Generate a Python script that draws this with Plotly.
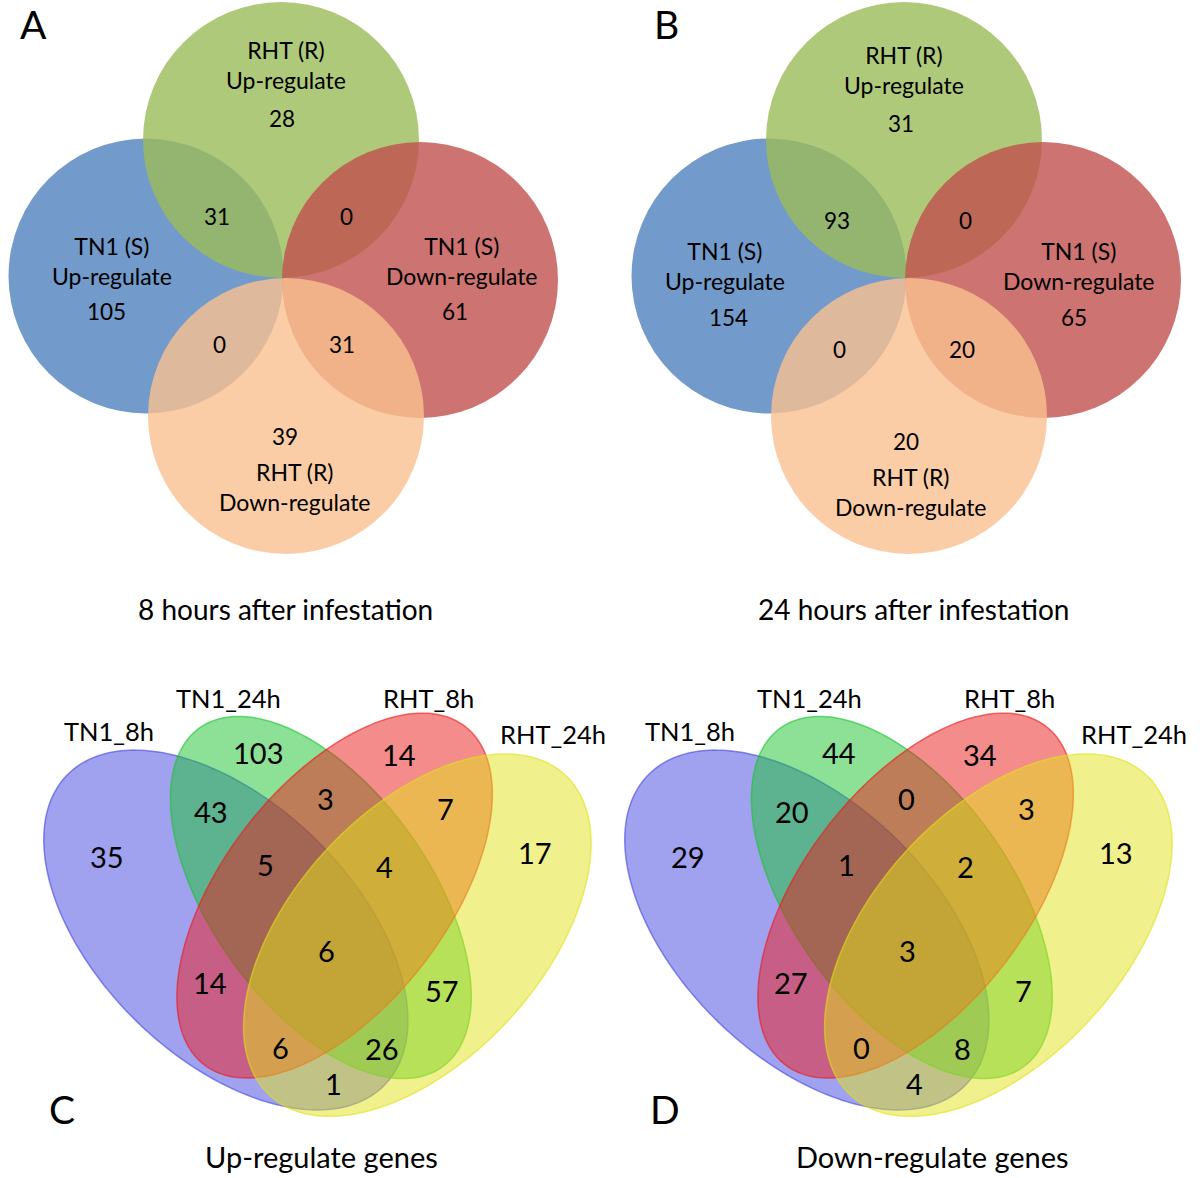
import numpy as np
import plotly.graph_objects as go

# ---------------- DATA ----------------
# Panels A / B : four-circle Venn (TN1 / RHT, up / down)
ab_set_labels = ["TN1 (S)<br>Up-regulate", "RHT (R)<br>Up-regulate",
                 "TN1 (S)<br>Down-regulate", "RHT (R)<br>Down-regulate"]
ab_regions = ["TN1 up", "RHT up", "TN1 down", "RHT down",
              "TN1 up & RHT up", "RHT up & TN1 down",
              "TN1 up & RHT down", "TN1 down & RHT down"]
counts_8h = [105, 28, 61, 39, 31, 0, 0, 31]
counts_24h = [154, 31, 65, 20, 93, 0, 0, 20]
ab_titles = ["8 hours after infestation", "24 hours after infestation"]

# Panels C / D : four-ellipse Venn
cd_set_labels = ["TN1_8h", "TN1_24h", "RHT_8h", "RHT_24h"]
cd_regions = ["B", "G", "R", "Y", "BG", "GR", "RY", "BR", "GY", "BY",
              "BGR", "GRY", "BRY", "BGY", "BGRY"]
up_counts = [35, 103, 14, 17, 43, 3, 7, 14, 57, 1, 5, 4, 6, 26, 6]
down_counts = [29, 44, 34, 13, 20, 0, 3, 27, 7, 4, 1, 2, 0, 8, 3]
cd_titles = ["Up-regulate genes", "Down-regulate genes"]
panel_letters = ["A", "B", "C", "D"]

# ---------------- LAYOUT (pixel canvas) ----------------
W, H = 1200, 1178
FONT = "Lato"

# circles of panel A (cx, cy, r); panel B is shifted by AB_DX
ab_circles = [(146, 276, 137.5), (281, 140, 138), (420, 280, 138), (286, 416, 138)]
ab_fill = ["#4F81BD", "#9BBB59", "#C0504D", "#FAC090"]
AB_DX = 623
ab_setlab_pos = [(111.5, 261), (286, 65), (461.5, 261), (295, 487)]
ab_count_pos_a = [(106, 311.5), (282, 118), (455, 311.5), (285, 436),
                  (216.5, 216), (346, 216), (219, 344.6), (341.5, 344.6)]
ab_count_pos_b = [(728, 317.7), (901, 123), (1074, 317.7), (906, 441),
                  (836.5, 220.7), (965, 220.7), (839, 349), (961.5, 349)]
ab_setlab_pos_b = [(725, 266), (904, 70), (1079, 266), (911, 492)]

# outline samples of the four ellipses of panel C (pixels); panel D = C shifted by CD_DX
cd_outline = [
    [(45, 833), (127, 748), (170, 753), (263, 800), (327, 850), (403, 985), (412, 1010),
     (383, 1080), (323, 1110), (223, 1082), (180, 1060), (130, 1020), (90, 960)],
    [(172, 817), (180, 750), (237, 718), (270, 720), (327, 750), (383, 800), (453, 920),
     (472, 973), (472, 993), (457, 1053), (413, 1075), (383, 1077), (327, 1053),
     (245, 980), (198, 903)],
    [(437, 716), (403, 717), (470, 723), (483, 753), (492, 800), (453, 920), (400, 990),
     (327, 1053), (250, 1080), (230, 1077), (220, 1070), (187, 1043), (177, 993),
     (200, 903), (267, 800), (327, 750)],
    [(513, 752), (593, 833), (470, 760), (383, 800), (327, 850), (250, 977), (241, 1027),
     (256, 1077), (323, 1110), (413, 1093), (480, 1060), (530, 980)],
]
cd_rgb = [(65, 69, 225), (25, 195, 45), (235, 25, 25), (225, 225, 25)]
CD_DX = 581
cd_setlab_pos = [(109.3, 731.4), (228.5, 698.2), (428.5, 697.5), (553.3, 733.8)]
cd_count_pos = [(107.3, 856), (257.5, 752.4), (398.6, 754.7), (534.6, 852.7),
                (210.7, 811.2), (325.9, 798.9), (445.2, 808.8), (209.9, 982.3),
                (442, 990.6), (333, 1083.6), (265.5, 864.3), (384.7, 866.6),
                (280.2, 1047), (381.6, 1048.7), (326.7, 950.7)]

title_pos = [(285, 609), (913, 609), (321, 1156), (932.7, 1156)]
title_size = [28, 28, 29, 29]
letter_pos = [(33.5, 23.5), (666, 23.5), (62, 1109), (665, 1109)]


def fitted_ellipse(pts, n=240):
    """Least-squares conic through outline samples -> closed ellipse outline."""
    P = np.asarray(pts, float)
    m = P.mean(axis=0)
    s = P.std()
    x = (P[:, 0] - m[0]) / s
    y = (P[:, 1] - m[1]) / s
    M = np.column_stack([x * x, x * y, y * y, x, y, np.ones_like(x)])
    A, B, C, D, E, F = np.linalg.svd(M)[2][-1]
    Q = np.array([[A, B / 2], [B / 2, C]])
    c = np.linalg.solve(2 * Q, [-D, -E])
    Fc = A * c[0] ** 2 + B * c[0] * c[1] + C * c[1] ** 2 + D * c[0] + E * c[1] + F
    w, V = np.linalg.eigh(Q)
    ax = np.sqrt(np.abs(Fc / w))
    t = np.linspace(0, 2 * np.pi, n, endpoint=False)
    pts_e = (c[:, None] + V[:, [0]] * ax[0] * np.cos(t) + V[:, [1]] * ax[1] * np.sin(t))
    return pts_e[0] * s + m[0], pts_e[1] * s + m[1]


def path_from(xs, ys, dx=0.0):
    return "M " + " L ".join(f"{a + dx:.2f},{b:.2f}" for a, b in zip(xs, ys)) + " Z"


shapes = []
annotations = []


def txt(x, y, s, size):
    annotations.append(dict(x=x, y=y, xref="x", yref="y", text=s, showarrow=False,
                            xanchor="center", yanchor="middle",
                            font=dict(family=FONT, size=size, color="black")))


# Panels A and B
for k, (dx, counts, cpos, spos) in enumerate([(0, counts_8h, ab_count_pos_a, ab_setlab_pos),
                                               (AB_DX, counts_24h, ab_count_pos_b, ab_setlab_pos_b)]):
    for (cx, cy, r), col in zip(ab_circles, ab_fill):
        shapes.append(dict(type="circle", xref="x", yref="y",
                           x0=cx + dx - r, x1=cx + dx + r, y0=cy - r, y1=cy + r,
                           fillcolor=col, opacity=0.8, line=dict(width=0), layer="below"))
    for (x, y), s in zip(spos, ab_set_labels):
        txt(x, y, s, 23)
    for (x, y), v in zip(cpos, counts):
        txt(x, y, str(v), 22.5)
    txt(title_pos[k][0], title_pos[k][1], ab_titles[k], title_size[k])

# Panels C and D
ellipses = [fitted_ellipse(p) for p in cd_outline]
for k, (dx, counts) in enumerate([(0, up_counts), (CD_DX, down_counts)]):
    for (ex, ey), (r, g, bl) in zip(ellipses, cd_rgb):
        shapes.append(dict(type="path", xref="x", yref="y",
                           path=path_from(ex, ey, dx),
                           fillcolor=f"rgba({r},{g},{bl},0.5)",
                           line=dict(color=f"rgba({r},{g},{bl},0.6)", width=1.5),
                           layer="below"))
    for (x, y), s in zip(cd_setlab_pos, cd_set_labels):
        txt(x + dx, y, s, 25.5)
    for (x, y), v in zip(cd_count_pos, counts):
        txt(x + dx, y, str(v), 29)
    txt(title_pos[2 + k][0], title_pos[2 + k][1], cd_titles[k], title_size[2 + k])

for (x, y), s in zip(letter_pos, panel_letters):
    txt(x, y, s, 39)

fig = go.Figure()
fig.add_trace(go.Scatter(x=[0, W], y=[0, H], mode="markers",
                         marker=dict(opacity=0), hoverinfo="skip", showlegend=False))
fig.update_layout(width=W, height=H, margin=dict(l=0, r=0, t=0, b=0),
                  paper_bgcolor="white", plot_bgcolor="white",
                  shapes=shapes, annotations=annotations, showlegend=False,
                  xaxis=dict(range=[0, W], visible=False, fixedrange=True),
                  yaxis=dict(range=[H, 0], visible=False, fixedrange=True))
fig.write_html("out.html", config={"displayModeBar": False},
               post_script="document.body.style.margin='0px';document.body.style.overflow='hidden';")
